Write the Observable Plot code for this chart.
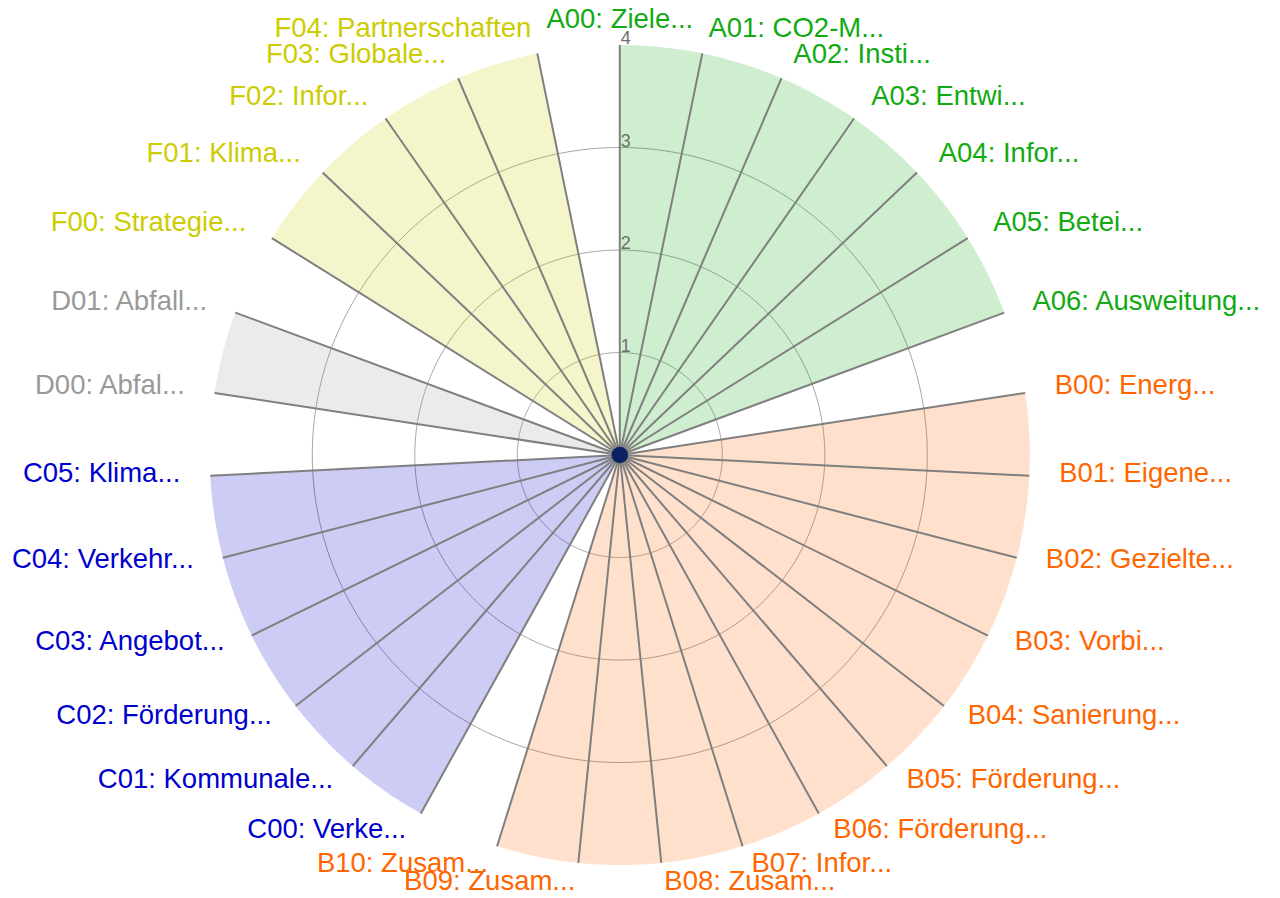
<!DOCTYPE html>
<html>
<head>
<meta charset="utf-8">
<script src="https://cdn.jsdelivr.net/npm/d3@7"></script>
<script src="https://cdn.jsdelivr.net/npm/@observablehq/plot@0.6"></script>
<style>
  body { margin: 0; background: #fff; }
  #chart svg { display: block; }
</style>
</head>
<body>
<div id="chart"></div>
<script>
// ---- data ----
const codes = ["A00","A01","A02","A03","A04","A05","A06",
  "B00","B01","B02","B03","B04","B05","B06","B07","B08","B09","B10",
  "C00","C01","C02","C03","C04","C05",
  "D00","D01",
  "F00","F01","F02","F03","F04"];
const labels = ["A00: Ziele...","A01: CO2-M...","A02: Insti...","A03: Entwi...","A04: Infor...","A05: Betei...","A06: Ausweitung...",
  "B00: Energ...","B01: Eigene...","B02: Gezielte...","B03: Vorbi...","B04: Sanierung...","B05: Förderung...","B06: Förderung...","B07: Infor...","B08: Zusam...","B09: Zusam...","B10: Zusam...",
  "C00: Verke...","C01: Kommunale...","C02: Förderung...","C03: Angebot...","C04: Verkehr...","C05: Klima...",
  "D00: Abfal...","D01: Abfall...",
  "F00: Strategie...","F01: Klima...","F02: Infor...","F03: Globale...","F04: Partnerschaften"];
const values = [4,4,4,4,4,4,4, 4,4,4,4,4,4,4,4,4,4,4, 4,4,4,4,4,4, 4,4, 4,4,4,4,4];
const groups = ["A","B","C","D","F"];
const groupColors = ["rgb(17,170,17)","rgb(255,102,0)","rgb(0,0,204)","rgb(153,153,153)","rgb(204,204,0)"];
const radialTicks = [1,2,3,4];
const gridRings = [1,2,3];
const rMax = 4;

// ---- derived table ----
const n = codes.length;
const lonOf = theta => 180 - theta;          // clockwise angle from top -> longitude
const thetaOf = lon => (((180 - lon) % 360) + 360) % 360;
const data = codes.map((code, i) => ({code, label: labels[i], group: code[0], value: values[i], theta: i * 360 / n}));

// label placement (slightly elliptical offset outside the outer ring)
const labRX = 4.293, labRY = 4.215;
data.forEach(d => {
  const t = d.theta * Math.PI / 180;
  const X = labRX * Math.sin(t), Y = labRY * Math.cos(t);
  d.labLon = lonOf(Math.atan2(X, Y) * 180 / Math.PI);
  d.labLat = 90 - Math.hypot(X, Y);
  d.side = d.theta === 0 || d.theta === 180 ? "middle" : d.theta < 180 ? "start" : "end";
});

// wedge geometry per group: pole -> outer arc (from d3.geoCircle) -> pole
function wedge(g) {
  const items = data.filter(d => d.group === g);
  const t1 = items[0].theta, t2 = items[items.length - 1].theta;
  const v = d3.max(items, d => d.value);
  const circle = d3.geoCircle().center([0, 90]).radius(v).precision(0.5)().coordinates[0];
  const arc = circle.map(p => [thetaOf(p[0]), p])
    .filter(([t]) => t > t1 && t < t2)
    .sort((a, b) => a[0] - b[0])
    .map(([, p]) => p);
  const ring = [[0, 90], [lonOf(t1), 90 - v], ...arc, [lonOf(t2), 90 - v], [0, 90]];
  return {type: "Polygon", coordinates: [ring]};
}
const wedges = groups.filter(g => data.some(d => d.group === g)).map(g => ({group: g}));

const chart = Plot.plot({
  width: 1280,
  height: 898,
  marginLeft: 209.3,
  marginRight: 250.7,
  marginTop: 44.5,
  marginBottom: 33.5,
  projection: {
    type: "azimuthal-equidistant",
    rotate: [0, -90],
    domain: d3.geoCircle().center([0, 90]).radius(rMax)(),
    clip: false
  },
  color: {domain: groups, range: groupColors},
  style: {fontFamily: "'Liberation Sans', Arial, Helvetica, sans-serif", background: "white", overflow: "visible"},
  marks: [
    Plot.geo(gridRings, {
      geometry: r => d3.geoCircle().center([0, 90]).radius(r).precision(0.5)(),
      fill: "none", stroke: "#8c8c8c", strokeWidth: 0.8
    }),
    Plot.geo(wedges, {geometry: d => wedge(d.group), fill: "group", fillOpacity: 0.2, stroke: "none"}),
    Plot.link(data, {
      x1: d => lonOf(d.theta), y1: d => 90 - d.value,
      x2: d => lonOf(d.theta), y2: 90,
      stroke: "#7f7f7f", strokeWidth: 2
    }),
    Plot.text(radialTicks, {
      x: 180, y: r => 90 - r, text: d => String(d),
      textAnchor: "start", lineAnchor: "bottom", dx: 1, dy: -1,
      fill: "#6e6e6e", fontSize: 18
    }),
    ...["start", "middle", "end"].map(side => Plot.text(data.filter(d => d.side === side), {
      x: "labLon", y: "labLat", text: "label", fill: "group",
      textAnchor: side, lineAnchor: "middle", dy: -4, fontSize: 27.5
    })),
    Plot.dot([{lon: 0, lat: 90}], {x: "lon", y: "lat", r: 8.3, fill: "#0a2164", stroke: "none"})
  ]
});
document.getElementById("chart").appendChild(chart);
</script>
</body>
</html>
